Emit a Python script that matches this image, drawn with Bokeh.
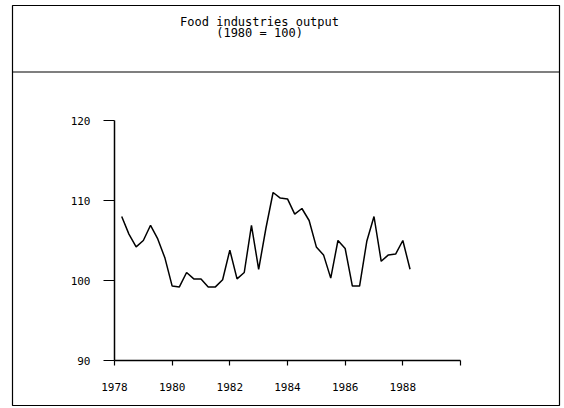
from bokeh.plotting import figure
from bokeh.models import Range1d, FixedTicker, Span, Label
from bokeh.embed import file_html
from bokeh.resources import INLINE

# ---- data (quarterly index, 1980 = 100) ----
years = [1978, 1978, 1978,
         1979, 1979, 1979, 1979,
         1980, 1980, 1980, 1980,
         1981, 1981, 1981, 1981,
         1982, 1982, 1982, 1982,
         1983, 1983, 1983, 1983,
         1984, 1984, 1984, 1984,
         1985, 1985, 1985, 1985,
         1986, 1986, 1986, 1986,
         1987, 1987, 1987, 1987,
         1988, 1988]
quarters = [2, 3, 4] + [1, 2, 3, 4] * 9 + [1, 2]
output = [108.0, 105.8, 104.2,
          105.0, 106.9, 105.2, 102.8,
          99.3, 99.2, 101.0, 100.2,
          100.2, 99.2, 99.2, 100.1,
          103.8, 100.2, 101.0, 106.9,
          101.4, 106.5, 111.0, 110.3,
          110.2, 108.3, 109.0, 107.5,
          104.2, 103.2, 100.3, 105.0,
          104.0, 99.3, 99.3, 104.9,
          108.0, 102.4, 103.2, 103.3,
          105.0, 101.4]

x_ticks = [1978, 1980, 1982, 1984, 1986, 1988, 1990]
x_tick_labels = ["1978", "1980", "1982", "1984", "1986", "1988", ""]
y_ticks = [90, 100, 110, 120]
y_tick_labels = ["90", "100", "110", "120"]

title_line1 = "Food industries output"
title_line2 = "(1980 = 100)"

x = [y + (q - 1) / 4 for y, q in zip(years, quarters)]

FONT = "DejaVu Sans Mono"

p = figure(width=562, height=407, output_backend="svg", toolbar_location=None,
           x_range=Range1d(1974.462, 1993.434), y_range=Range1d(84.375, 134.375),
           min_border=0)
p.min_border_left = 12
p.min_border_right = 3
p.min_border_top = 5
p.min_border_bottom = 2
p.background_fill_color = "white"
p.border_fill_color = "white"
p.outline_line_color = "black"
p.outline_line_width = 1.2
p.xgrid.visible = False
p.ygrid.visible = False

# axes placed at data locations inside the frame
xa = p.xaxis[0]
xa.fixed_location = 90
xa.bounds = (1978, 1990)
xa.ticker = FixedTicker(ticks=x_ticks)
xa.major_label_overrides = {t: l for t, l in zip(x_ticks, x_tick_labels)}
xa.major_tick_in = 0
xa.major_tick_out = 5
xa.minor_tick_line_color = None
xa.axis_line_color = "black"
xa.axis_line_width = 1.5
xa.major_tick_line_width = 1.2
xa.major_label_standoff = 17
xa.major_label_text_font = FONT
xa.major_label_text_font_size = "11px"
xa.major_label_text_color = "black"

ya = p.yaxis[0]
ya.fixed_location = 1978
ya.bounds = (90, 120)
ya.ticker = FixedTicker(ticks=y_ticks)
ya.major_label_overrides = {t: l for t, l in zip(y_ticks, y_tick_labels)}
ya.major_tick_in = 0
ya.major_tick_out = 11
ya.minor_tick_line_color = None
ya.axis_line_color = "black"
ya.axis_line_width = 1.5
ya.major_tick_line_width = 1.2
ya.major_label_standoff = 13
ya.major_label_text_font = FONT
ya.major_label_text_font_size = "11px"
ya.major_label_text_color = "black"

# title box separator
p.add_layout(Span(location=126.06, dimension="width", line_color="black", line_width=1.2))

p.add_layout(Label(x=1983.03, y=132.35, text=title_line1, text_align="center",
                   text_baseline="middle", text_font=FONT, text_font_size="12px",
                   text_color="black"))
p.add_layout(Label(x=1983.03, y=131.0, text=title_line2, text_align="center",
                   text_baseline="middle", text_font=FONT, text_font_size="12px",
                   text_color="black"))

p.line(x, output, line_color="black", line_width=1.5)

open("out.html", "w").write(file_html(p, INLINE))
